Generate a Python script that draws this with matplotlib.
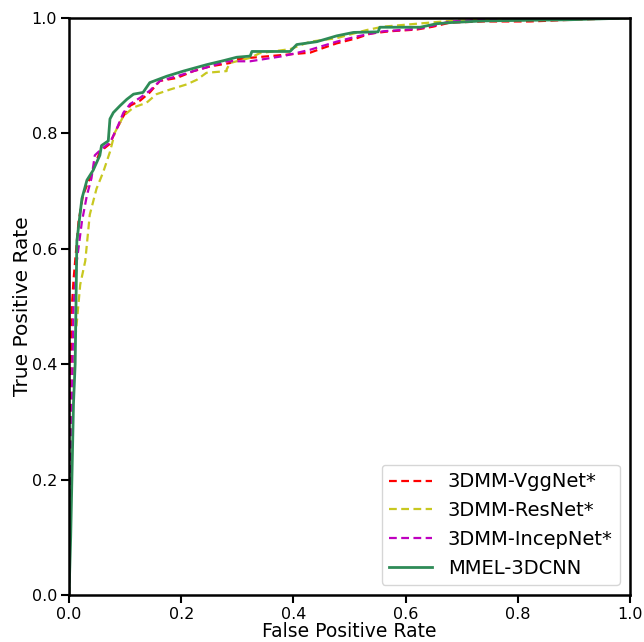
import matplotlib
matplotlib.use("Agg")
import matplotlib.pyplot as plt

# ROC points (FPR, TPR)
vgg_fpr = [0.0, 0.0, 0.002, 0.005, 0.008, 0.017, 0.025, 0.037, 0.046, 0.055, 0.073, 0.082,
           0.097, 0.109, 0.127, 0.144, 0.162, 0.192, 0.222, 0.251, 0.269, 0.287, 0.293, 0.323,
           0.382, 0.430, 0.453, 0.477, 0.513, 0.537, 0.572, 0.620, 0.649, 0.679, 0.739, 0.822,
           0.899, 1.0]
vgg_tpr = [0.0, 0.2, 0.35, 0.498, 0.545, 0.647, 0.693, 0.722, 0.745, 0.768, 0.782, 0.802,
           0.830, 0.848, 0.857, 0.871, 0.891, 0.896, 0.908, 0.916, 0.919, 0.922, 0.928, 0.931,
           0.936, 0.940, 0.948, 0.956, 0.965, 0.973, 0.977, 0.980, 0.985, 0.992, 0.994, 0.994,
           0.997, 1.0]

res_fpr = [0.0, 0.004, 0.008, 0.011, 0.020, 0.029, 0.037, 0.049, 0.061, 0.073, 0.082, 0.097,
           0.115, 0.138, 0.156, 0.180, 0.210, 0.228, 0.245, 0.281, 0.281, 0.287, 0.323, 0.340,
           0.394, 0.430, 0.477, 0.530, 0.560, 0.679, 0.739, 1.0]
res_tpr = [0.0, 0.25, 0.38, 0.441, 0.538, 0.579, 0.659, 0.704, 0.733, 0.768, 0.802, 0.830,
           0.845, 0.853, 0.868, 0.876, 0.885, 0.893, 0.905, 0.908, 0.911, 0.922, 0.931, 0.939,
           0.946, 0.959, 0.965, 0.979, 0.985, 0.995, 0.997, 1.0]

incep_fpr = [0.0, 0.005, 0.008, 0.014, 0.023, 0.032, 0.040, 0.046, 0.058, 0.073, 0.085, 0.097,
             0.109, 0.127, 0.144, 0.162, 0.192, 0.222, 0.251, 0.281, 0.323, 0.382, 0.430, 0.477,
             0.513, 0.560, 0.620, 0.655, 0.679, 0.739, 1.0]
incep_tpr = [0.0, 0.33, 0.498, 0.579, 0.647, 0.693, 0.722, 0.762, 0.773, 0.784, 0.808, 0.836,
             0.851, 0.862, 0.874, 0.891, 0.899, 0.908, 0.916, 0.925, 0.925, 0.934, 0.945, 0.959,
             0.968, 0.977, 0.981, 0.988, 0.994, 0.997, 1.0]

mmel_fpr = [0.0, 0.003, 0.008, 0.011, 0.014, 0.023, 0.032, 0.043, 0.055, 0.058, 0.070, 0.073,
            0.079, 0.091, 0.103, 0.115, 0.132, 0.144, 0.174, 0.204, 0.245, 0.275, 0.299, 0.323,
            0.326, 0.394, 0.406, 0.442, 0.477, 0.507, 0.551, 0.554, 0.626, 0.655, 0.679, 0.739,
            0.893, 1.0]
mmel_tpr = [0.0, 0.1, 0.332, 0.401, 0.613, 0.687, 0.719, 0.736, 0.762, 0.779, 0.787, 0.825,
            0.836, 0.848, 0.859, 0.868, 0.871, 0.888, 0.899, 0.908, 0.919, 0.926, 0.932, 0.934,
            0.942, 0.942, 0.954, 0.959, 0.969, 0.975, 0.976, 0.984, 0.984, 0.990, 0.992, 0.995,
            0.997, 1.0]

fig = plt.figure(figsize=(6.44, 6.42), dpi=100)
ax = fig.add_axes([69/644, 47/642, 561/644, 577/642])

ax.plot(vgg_fpr, vgg_tpr, 'r--', lw=1.6, dashes=(3.5, 2), label='3DMM-VggNet*')
ax.plot(res_fpr, res_tpr, '--', color='#c8c820', lw=1.6, dashes=(3.5, 2), label='3DMM-ResNet*')
ax.plot(incep_fpr, incep_tpr, 'm--', lw=1.6, dashes=(3.5, 2), label='3DMM-IncepNet*')
ax.plot(mmel_fpr, mmel_tpr, '-', color='#2e8b57', lw=2, label='MMEL-3DCNN')

ax.set_xlim(0, 1)
ax.set_ylim(0, 1)
ax.set_xticks([0, 0.2, 0.4, 0.6, 0.8, 1.0])
ax.set_yticks([0, 0.2, 0.4, 0.6, 0.8, 1.0])
for s in ax.spines.values():
    s.set_linewidth(1.8)
ax.tick_params(direction='out', length=6, width=1.5, labelsize=11.5, pad=2.5)
ax.set_xlabel('False Positive Rate', fontsize=13.5, labelpad=0)
ax.set_ylabel('True Positive Rate', fontsize=14.5, labelpad=0)
ax.legend(loc='lower right', fontsize=14, handlelength=2.2, borderaxespad=0.5)

fig.savefig('out.png', dpi=100)
